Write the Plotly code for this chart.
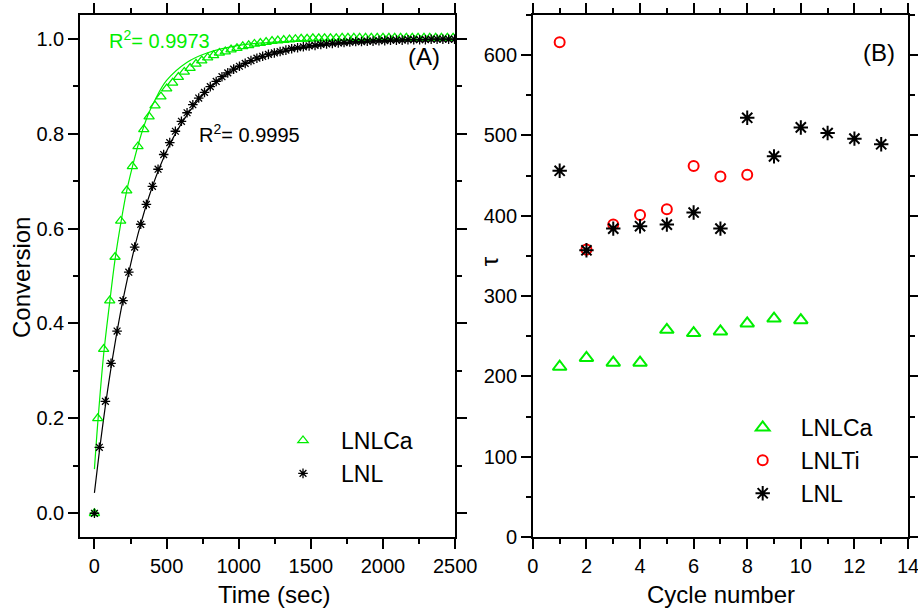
import plotly.graph_objects as go

# ---------------- Panel A data ----------------
lnlca_t = [0, 23, 64, 106, 143, 182, 224, 263, 302, 342, 379,
           420, 461, 501, 542, 582, 623, 663, 704, 744, 785,
           826, 866, 907, 947, 988, 1028, 1069, 1109, 1150, 1190,
           1231, 1271, 1312, 1352, 1393, 1433, 1474, 1514, 1555, 1595,
           1636, 1676, 1717, 1757, 1798, 1838, 1879, 1919, 1960, 2000,
           2041, 2081, 2122, 2162, 2203, 2243, 2284, 2324, 2365, 2405,
           2446, 2486]
lnlca_conv = [0.000, 0.200, 0.346, 0.448, 0.540, 0.616, 0.680, 0.731, 0.773, 0.809, 0.836,
              0.859, 0.878, 0.895, 0.907, 0.919, 0.930, 0.938, 0.947, 0.954, 0.960,
              0.965, 0.970, 0.973, 0.977, 0.980, 0.984, 0.986, 0.989, 0.991, 0.993,
              0.995, 0.996, 0.997, 0.998, 0.999, 1.000, 1.000, 1.001, 1.001, 1.001,
              1.001, 1.001, 1.002, 1.002, 1.002, 1.002, 1.002, 1.002, 1.002, 1.002,
              1.002, 1.002, 1.002, 1.002, 1.002, 1.002, 1.002, 1.002, 1.002, 1.002,
              1.002, 1.002]

lnl_t = [0, 34, 76, 115, 157, 198, 238, 279, 321, 360,
         402, 441, 480, 522, 561, 603, 642, 682, 723, 763,
         803, 844, 884, 924, 965, 1005, 1045, 1085, 1126, 1166,
         1206, 1247, 1287, 1327, 1367, 1408, 1448, 1488, 1529, 1569,
         1609, 1649, 1690, 1730, 1770, 1811, 1851, 1891, 1931, 1972,
         2012, 2052, 2093, 2133, 2173, 2213, 2254, 2294, 2334, 2375,
         2415, 2455, 2496]
lnl_conv = [0.000, 0.139, 0.236, 0.316, 0.384, 0.448, 0.508, 0.561, 0.609, 0.651,
            0.689, 0.725, 0.756, 0.781, 0.805, 0.826, 0.844, 0.861, 0.875, 0.887,
            0.899, 0.910, 0.920, 0.928, 0.936, 0.942, 0.948, 0.954, 0.959, 0.963,
            0.967, 0.970, 0.973, 0.976, 0.979, 0.981, 0.983, 0.985, 0.986, 0.988,
            0.989, 0.990, 0.991, 0.992, 0.993, 0.994, 0.994, 0.995, 0.995, 0.996,
            0.996, 0.997, 0.997, 0.997, 0.998, 0.998, 0.998, 0.998, 0.999, 0.999,
            0.999, 0.999, 0.999]

# fitted curves
fitca_t = [0, 23, 64, 106, 143, 182, 224, 263, 302, 342, 379, 418, 500, 640, 780, 1000, 1200, 1400, 1800, 2500]
fitca_y = [0.093, 0.190, 0.335, 0.445, 0.535, 0.610, 0.680, 0.730, 0.775, 0.815, 0.845, 0.870,
           0.912, 0.950, 0.970, 0.986, 0.992, 0.995, 0.997, 0.997]
fitl_t = [0, 50, 100, 150, 200, 300, 400, 500, 600, 700, 800, 1000, 1200, 1400, 1700, 2000, 2500]
fitl_y = [0.043, 0.168, 0.277, 0.371, 0.453, 0.586, 0.687, 0.763, 0.820, 0.863, 0.896,
          0.940, 0.964, 0.978, 0.989, 0.994, 0.996]

# ---------------- Panel B data ----------------
cyc_ca = [1, 2, 3, 4, 5, 6, 7, 8, 9, 10]
tau_ca = [212, 223, 217, 217, 258, 254, 256, 266, 272, 270]
cyc_ti = [1, 2, 3, 4, 5, 6, 7, 8]
tau_ti = [616, 358, 389, 401, 408, 462, 449, 451]
cyc_lnl = [1, 2, 3, 4, 5, 6, 7, 8, 9, 10, 11, 12, 13]
tau_lnl = [456, 357, 384, 387, 389, 404, 384, 522, 474, 510, 503, 496, 489]

GREEN = "#00ee00"
RED = "#ff0000"
BLACK = "#000000"
FONT = "Liberation Sans, Arial, sans-serif"

fig = go.Figure()

# Panel A
fig.add_trace(go.Scatter(x=fitca_t, y=fitca_y, mode="lines", line=dict(color=GREEN, width=1.2, shape="spline"),
                         showlegend=False, xaxis="x", yaxis="y", hoverinfo="skip"))
fig.add_trace(go.Scatter(x=fitl_t, y=fitl_y, mode="lines", line=dict(color=BLACK, width=1.2, shape="spline"),
                         showlegend=False, xaxis="x", yaxis="y", hoverinfo="skip"))
fig.add_trace(go.Scatter(x=lnlca_t, y=lnlca_conv, mode="markers", name="LNLCa",
                         marker=dict(symbol="triangle-up-open", size=9, color=GREEN, line=dict(width=1.3, color=GREEN)),
                         xaxis="x", yaxis="y", legend="legend"))
fig.add_trace(go.Scatter(x=lnl_t, y=lnl_conv, mode="markers", name="LNL",
                         marker=dict(symbol="asterisk-open", size=8, color=BLACK, line=dict(width=1.3, color=BLACK)),
                         xaxis="x", yaxis="y", legend="legend"))

# Panel B
fig.add_trace(go.Scatter(x=cyc_ca, y=tau_ca, mode="markers", name="LNLCa",
                         marker=dict(symbol="triangle-up-open", size=12, color=GREEN, line=dict(width=2, color=GREEN)),
                         xaxis="x2", yaxis="y2", legend="legend2"))
fig.add_trace(go.Scatter(x=cyc_ti, y=tau_ti, mode="markers", name="LNLTi",
                         marker=dict(symbol="circle-open", size=10, color=RED, line=dict(width=2, color=RED)),
                         xaxis="x2", yaxis="y2", legend="legend2"))
fig.add_trace(go.Scatter(x=cyc_lnl, y=tau_lnl, mode="markers", name="LNL",
                         marker=dict(symbol="asterisk-open", size=12, color=BLACK, line=dict(width=2, color=BLACK)),
                         xaxis="x2", yaxis="y2", legend="legend2"))

W, H = 918, 608
ML, MR, MT, MB = 80, 10.3, 15, 71
PW = W - ML - MR
PH = H - MT - MB


def px(xp):
    return (xp - ML) / PW


def py(yp):
    return (H - MB - yp) / PH


minor_style = dict(ticklen=5, tickwidth=1.6, ticks="outside", tickcolor="black")
common = dict(showline=True, linecolor="black", linewidth=1.6, mirror="allticks", ticks="outside",
              ticklen=10, tickwidth=1.6, tickcolor="black", showgrid=False, zeroline=False, automargin=False,
              ticklabeloverflow="allow",
              tickfont=dict(family=FONT, size=20, color="black"))

fig.update_layout(
    template="none",
    width=W, height=H, margin=dict(l=ML, r=MR, t=MT, b=MB, autoexpand=False),
    paper_bgcolor="white", plot_bgcolor="white",
    font=dict(family=FONT, color="black"),
    xaxis=dict(domain=[0, px(455)], range=[-100, 2500], dtick=500, tick0=0, anchor="y",
               minor=dict(dtick=250, tick0=0, **minor_style), **common),
    yaxis=dict(domain=[0, 1], range=[-0.05, 1.05], dtick=0.2, tick0=0, tickformat=".1f", anchor="x",
               minor=dict(dtick=0.1, tick0=0, **minor_style), **common),
    xaxis2=dict(domain=[px(532.7), 1], range=[0, 14], dtick=2, tick0=0, anchor="y2",
                minor=dict(dtick=1, tick0=0, **minor_style), **common),
    yaxis2=dict(domain=[0, 1], range=[0, 650], dtick=100, tick0=0, anchor="x2",
                minor=dict(dtick=50, tick0=0, **minor_style), **common),
    legend=dict(x=265 / W, y=(H - 419) / H, xref="container", yref="container", xanchor="left", yanchor="top",
                bgcolor="rgba(0,0,0,0)", font=dict(family=FONT, size=23, color="black"), itemwidth=66,
                tracegroupgap=0),
    legend2=dict(x=724.7 / W, y=(H - 406) / H, xref="container", yref="container", xanchor="left", yanchor="top",
                 bgcolor="rgba(0,0,0,0)", font=dict(family=FONT, size=23, color="black"), itemwidth=66,
                 tracegroupgap=0),
)

# text labels: (text, x px, y px, xanchor, font size, colour, angle)
labels = [
    ("R<sup>2</sup>= 0.9973", 107, 40, "left", 20, GREEN, 0),
    ("R<sup>2</sup>= 0.9995", 197, 133, "left", 20, BLACK, 0),
    ("(A)", 442, 56, "right", 24, BLACK, 0),
    ("(B)", 897, 53, "right", 24, BLACK, 0),
    ("Conversion", 21, 277, "center", 24, BLACK, -90),
    ("Time (sec)", 274, 594, "center", 24, BLACK, 0),
    ("Cycle number", 720.5, 594, "center", 24, BLACK, 0),
    ("τ", 489, 261, "center", 24, BLACK, -90),
]
for text, xx, yy, xa, fs, col, ang in labels:
    fig.add_annotation(text=text, x=px(xx), y=py(yy), xref="paper", yref="paper",
                       xanchor=xa, yanchor="middle", showarrow=False, textangle=ang,
                       font=dict(family=FONT, size=fs, color=col))

fig.write_html("out.html")
